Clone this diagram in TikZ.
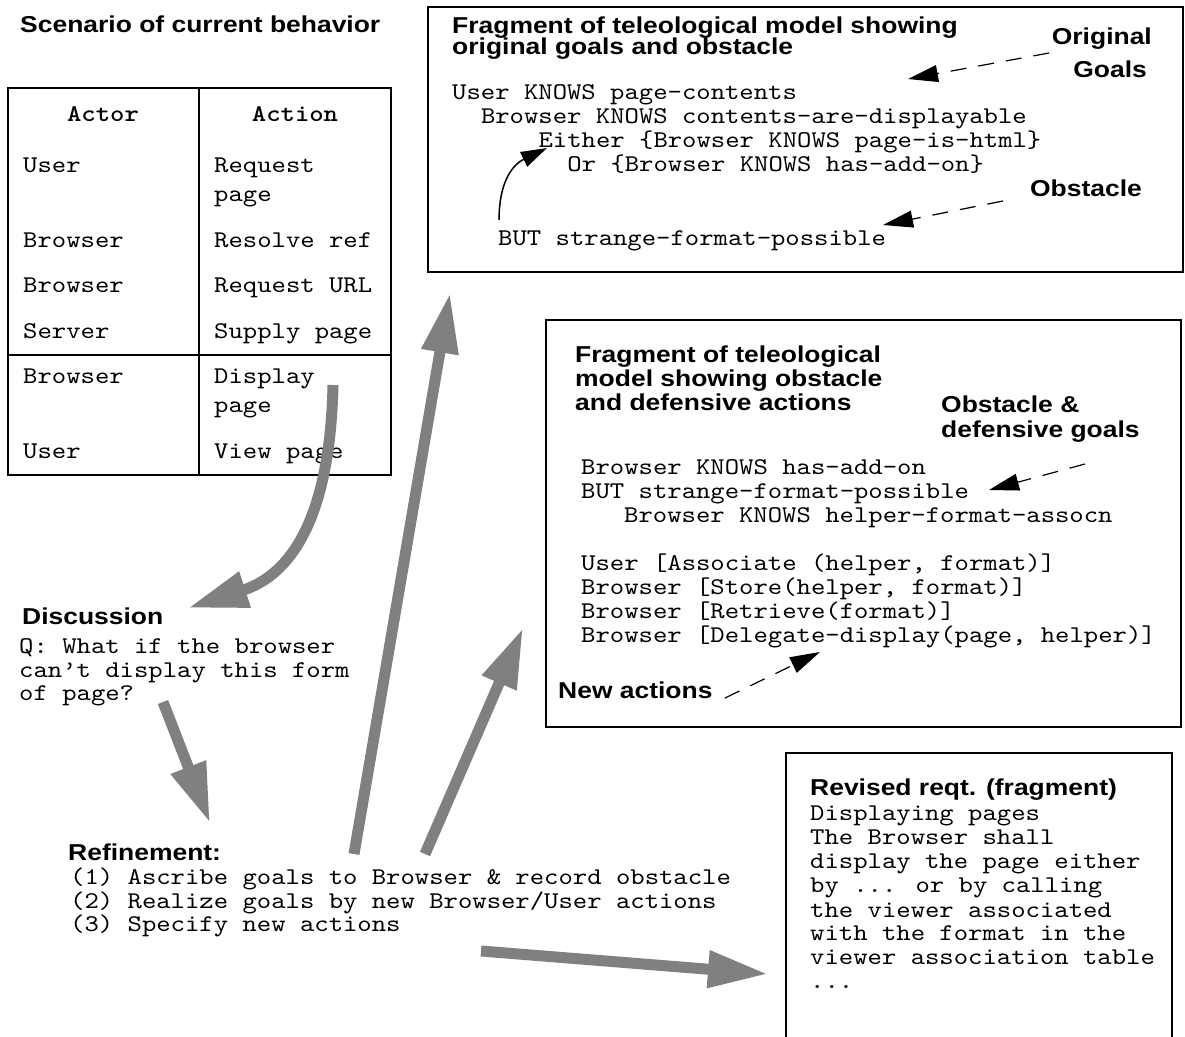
\documentclass[tikz,border=0pt]{standalone}
\usepackage{fontspec}
\usetikzlibrary{arrows.meta}
\newfontfamily\labelfont{Liberation Sans}[FakeStretch=1.15]
\newfontfamily\codefont{lmmono10-regular.otf}[FakeStretch=1.14, BoldFont=lmmonolt10-bold.otf]
\definecolor{arrowgray}{RGB}{128,128,128}
\tikzset{
  heading/.style={font=\labelfont\bfseries\fontsize{23}{22}\selectfont, inner sep=0pt, anchor=base west},
  headingr/.style={heading, anchor=base east},
  code/.style={font=\codefont\fontsize{24}{24}\selectfont, inner sep=0pt, anchor=base west},
  codehead/.style={font=\codefont\bfseries\fontsize{24}{24}\selectfont, inner sep=0pt, anchor=base},
  panel/.style={draw=black, line width=1.3pt},
  bigarrow/.style={draw=arrowgray, line width=11pt, -{Triangle[length=60pt,width=35pt]}},
  hintarrow/.style={draw=black, line width=1.2pt, dash pattern=on 16pt off 12pt, -{Triangle[length=30pt,width=17pt]}},
  backarrow/.style={draw=black, line width=1.5pt, -{Triangle[length=26pt,width=16pt]}},
}
\begin{document}
\begin{tikzpicture}[x=1pt,y=-1pt]
\useasboundingbox (0,0) rectangle (1185,1036);

% ---- scenario table ----
\node[heading] (scen) at (20,32) {Scenario of current behavior};
\draw[panel] (8,88) coordinate (tabnw) rectangle (391,475) coordinate (tabse);
\draw[panel] (199,88) -- (199,475);
\draw[panel] (8,355) -- (391,355);
\node[codehead] (hactor) at (103,121) {Actor};
\node[codehead] (haction) at (295,121) {Action};
\node[code] (a1) at (23,172) {User};
\node[code] (a2) at (23,247) {Browser};
\node[code] (a3) at (23,292) {Browser};
\node[code] (a4) at (23,338) {Server};
\node[code] (a5) at (23,383) {Browser};
\node[code] (a6) at (23,458) {User};
\node[code] (b1) at (214,172) {Request};
\node[code] (b1b) at (214,201) {page};
\node[code] (b2) at (214,247) {Resolve ref};
\node[code] (b3) at (214,292) {Request URL};
\node[code] (b4) at (214,338) {Supply page};
\node[code] (b5) at (214,383) {Display};
\node[code] (b5b) at (214,412) {page};
\node[code] (b6) at (214,458) {View page};

% ---- original goals and obstacle ----
\draw[panel] (428,7) rectangle (1183,272);
\node[heading] (t1) at (452,33) {Fragment of teleological model showing};
\node[heading] (t2) at (452,54) {original goals and obstacle};
\node[headingr] (orig) at (1152,44) {Original};
\node[headingr] (goals) at (1147,77) {Goals};
\node[code] (g1) at (452,99) {User KNOWS page-contents};
\node[code] (g2) at (480.8,123) {Browser KNOWS contents-are-displayable};
\node[code] (g3) at (538.4,147) {Either \{Browser KNOWS page-is-html\}};
\node[code] (g4) at (567.2,171) {Or \{Browser KNOWS has-add-on\}};
\node[headingr] (obst) at (1142,196) {Obstacle};
\node[code] (g5) at (498,245) {BUT strange-format-possible};
\coordinate (ogtail) at (1049,53);
\coordinate (ogtip) at (908,79);
\coordinate (obtail) at (1003,201);
\coordinate (obtip) at (883,225);
\coordinate (bktail) at (499,220);
\coordinate (bktip) at (547,148);
\draw[hintarrow] (ogtail) -- (ogtip);
\draw[hintarrow] (obtail) -- (obtip);
\draw[backarrow] (bktail) .. controls (499,186) and (510,166) .. (bktip);

% ---- obstacle and defensive actions ----
\draw[panel] (546,320) rectangle (1181,727);
\node[heading] (m1) at (575,362) {Fragment of teleological};
\node[heading] (m2) at (575,386) {model showing obstacle};
\node[heading] (m3) at (575,410) {and defensive actions};
\node[heading] (od1) at (941,412) {Obstacle \&};
\node[heading] (od2) at (941,437) {defensive goals};
\node[code] (d1) at (581,474) {Browser KNOWS has-add-on};
\node[code] (d2) at (581,498) {BUT strange-format-possible};
\node[code] (d3) at (624,522) {Browser KNOWS helper-format-assocn};
\node[code] (d4) at (581,570) {User [Associate (helper, format)]};
\node[code] (d5) at (581,594) {Browser [Store(helper, format)]};
\node[code] (d6) at (581,618) {Browser [Retrieve(format)]};
\node[code] (d7) at (581,642) {Browser [Delegate-display(page, helper)]};
\node[heading] (newact) at (558,698) {New actions};
\coordinate (odtail) at (1085,464);
\coordinate (odtip) at (989,490);
\coordinate (natail) at (725,698);
\coordinate (natip) at (820,652);
\draw[hintarrow] (odtail) -- (odtip);
\draw[hintarrow] (natail) -- (natip);

% ---- discussion ----
\node[heading] (disc) at (22,624) {Discussion};
\node[code] (q1) at (19,653) {Q: What if the browser};
\node[code] (q2) at (19,677) {can’t display this form};
\node[code] (q3) at (19,700) {of page?};

% ---- refinement ----
\node[heading] (refine) at (68,860) {Refinement:};
\node[code] (r1) at (70,884) {(1) Ascribe goals to Browser \& record obstacle};
\node[code] (r2) at (70,908) {(2) Realize goals by new Browser/User actions};
\node[code] (r3) at (70,931) {(3) Specify new actions};

% ---- revised requirement ----
\draw[panel] (786,753) rectangle (1172,1045);
\node[heading] (rev) at (810,795) {Revised reqt. (fragment)};
\node[code] (v1) at (810,820) {Displaying pages};
\node[code] (v2) at (810,844) {The Browser shall};
\node[code] (v3) at (810,868) {display the page either};
\node[code] (v4) at (810,892) {by ... or by calling};
\node[code] (v5) at (810,917) {the viewer associated};
\node[code] (v6) at (810,940) {with the format in the};
\node[code] (v7) at (810,964) {viewer association table};
\node[code] (v8) at (810,988) {...};

% ---- flow between the stages ----
\coordinate (f1s) at (333,385);
\coordinate (f1e) at (188,608);
\coordinate (f2s) at (163,702);
\coordinate (f2e) at (210,823);
\coordinate (f3s) at (354,854);
\coordinate (f3e) at (450,293);
\coordinate (f4s) at (425,854);
\coordinate (f4e) at (523,628);
\coordinate (f5s) at (481,951);
\coordinate (f5e) at (768,974);
\draw[bigarrow] (f1s) .. controls (330,520) and (290,575) .. (f1e);
\draw[bigarrow] (f2s) -- (f2e);
\draw[bigarrow] (f3s) -- (f3e);
\draw[bigarrow] (f4s) -- (f4e);
\draw[bigarrow] (f5s) -- (f5e);
\end{tikzpicture}
\end{document}
